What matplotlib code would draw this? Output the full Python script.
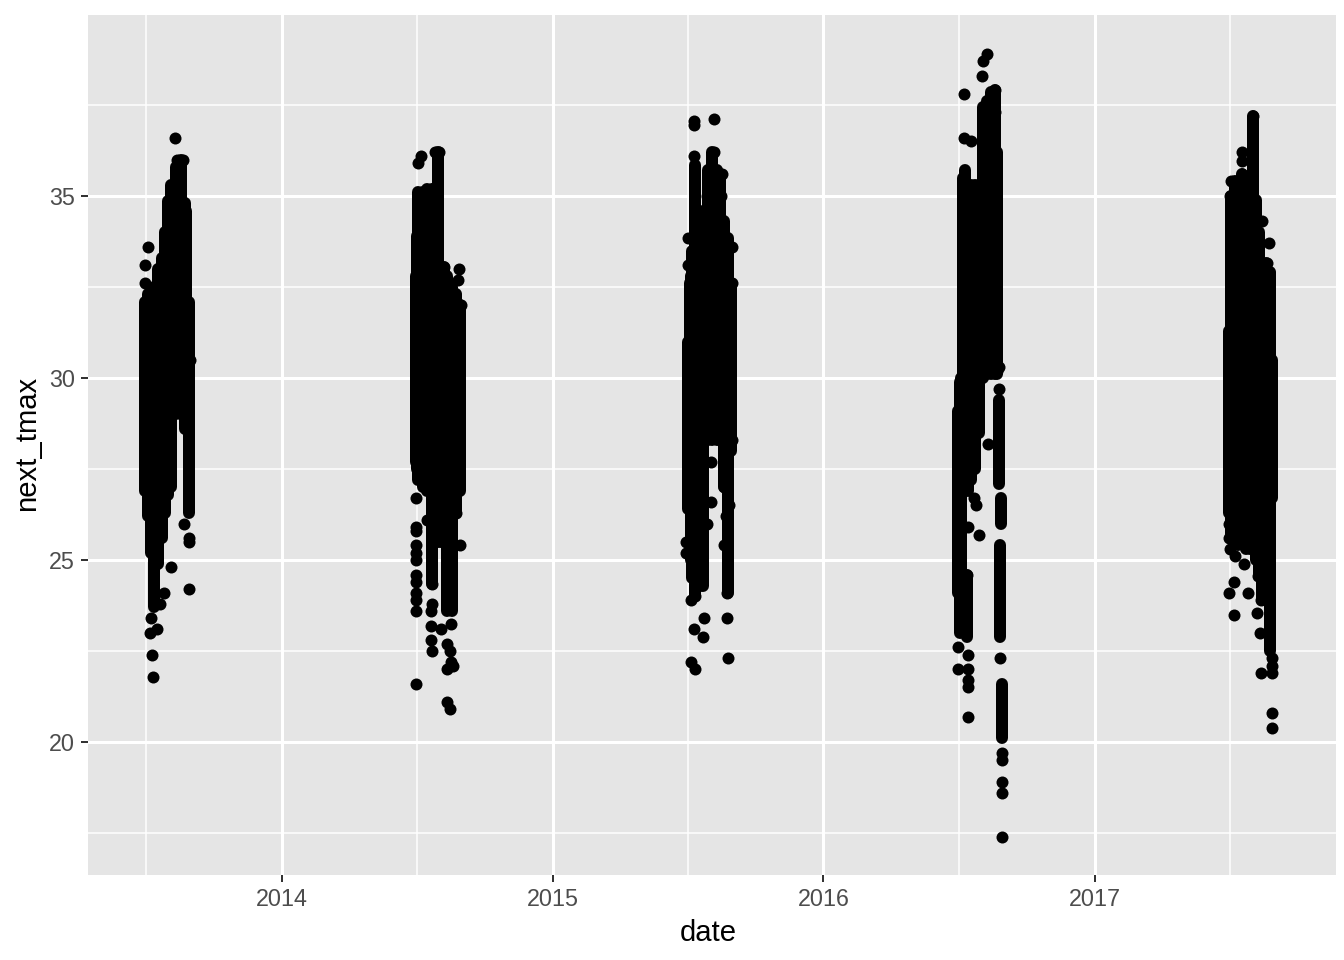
import datetime as dt
import matplotlib
matplotlib.use("Agg")
import matplotlib.pyplot as plt
import matplotlib.dates as mdates

# Dense stacks of overlapping points: days after 30 June, lowest and highest value of the stack.
col_days_2013 = [0, 4, 8, 12, 18, 23, 27, 31, 36, 42, 49, 54, 56, 59]
col_low_2013 = [26.9, 26.2, 25.2, 23.7, 24.9, 25.6, 26.3, 26.8, 27.0, 29.0, 29.0, 28.6, 29.0, 26.3]
col_high_2013 = [32.1, 32.3, 31.5, 32.5, 33.0, 33.3, 34.0, 34.85, 35.3, 35.8, 36.0, 34.8, 34.6, 32.1]
pt_days_2013 = [5, 0, 0, 10, 11, 7, 16, 8, 35, 26, 21, 59, 53, 60, 59, 41, 44, 52, 61]
pt_vals_2013 = [33.6, 33.1, 32.6, 22.4, 21.8, 23.0, 23.1, 23.4, 24.8, 24.1, 23.8, 24.2, 26.0, 25.6, 25.5,
                36.6, 36.0, 36.0, 30.5]

col_days_2014 = [0, 2, 4, 10, 16, 22, 25, 31, 35, 39, 43, 49, 54, 60]
col_low_2014 = [27.7, 27.5, 27.2, 27.0, 26.9, 24.35, 25.5, 25.5, 25.5, 25.5, 23.6, 23.6, 26.3, 26.9]
col_high_2014 = [32.8, 33.9, 35.1, 35.1, 35.2, 35.2, 35.2, 36.2, 33.0, 33.05, 32.8, 32.5, 32.3, 32.0]
pt_days_2014 = [26, 4, 8, 32, 1, 1, 1, 1, 1, 1, 1, 1, 1, 1, 1, 1,
                22, 21, 21, 21, 22, 22, 15, 58, 57, 39, 53, 60, 55, 48, 35, 43, 47, 48, 42, 51, 42, 47, 61]
pt_vals_2014 = [36.2, 35.9, 36.1, 36.2, 26.7, 25.9, 25.8, 25.4, 25.2, 25.0, 24.6, 24.4, 24.1, 23.9, 23.6, 21.6,
                23.8, 23.6, 23.2, 22.8, 22.5, 24.35, 26.1, 33.0, 32.7, 33.05, 32.3, 25.4, 26.3, 23.25, 23.1,
                22.7, 22.5, 22.2, 22.0, 22.1, 21.1, 20.9, 32.0]

col_days_2015 = [2, 2, 5, 6, 8, 12, 18, 23, 29, 35, 41, 46, 51, 56, 60]
col_low_2015 = [26.4, 27.5, 27.0, 25.0, 24.5, 24.0, 24.3, 24.3, 28.3, 28.3, 28.3, 28.3, 27.0, 24.1, 28.0]
col_high_2015 = [31.0, 30.3, 32.6, 32.8, 33.5, 35.85, 34.5, 34.6, 35.7, 36.2, 35.7, 35.6, 34.3, 33.85, 32.6]
pt_days_2015 = [10, 10, 37, 10, 37, 3, 3, 6, 0, 0, 6, 12, 24, 11, 23, 7, 12, 55, 55, 56, 33, 33, 28, 51, 57, 53, 51,
                61, 61, 61, 30, 48, 47, 28]
pt_vals_2015 = [36.95, 37.05, 37.1, 36.1, 36.2, 33.85, 33.1, 32.8, 25.5, 25.2, 23.9, 24.0, 23.4, 23.1, 22.9, 22.2,
                22.0, 24.1, 23.4, 22.3, 27.7, 26.6, 26.0, 27.0, 26.5, 26.2, 25.4, 28.3, 33.6, 32.6, 35.7, 35.6,
                35.0, 35.0]

col_days_2016 = [0, 3, 4, 7, 10, 12, 14, 18, 23, 29, 34, 39, 45, 50, 53, 55, 58, 57, 60]
col_low_2016 = [24.1, 23.0, 24.0, 27.0, 27.0, 22.9, 26.9, 27.2, 27.5, 28.5, 30.0, 30.1, 30.1, 30.1, 30.1, 27.1, 26.0,
                22.9, 20.1]
col_high_2016 = [29.1, 29.9, 30.0, 35.5, 35.7, 24.6, 35.3, 35.3, 35.3, 35.3, 37.45, 37.6, 37.85, 37.9, 36.2, 29.4,
                 26.7, 25.4, 21.6]
pt_days_2016 = [40, 34, 33, 9, 50, 46, 50, 9, 18, 14, 14, 14, 14, 14, 0, 0, 22, 25, 14, 28, 12, 57, 41, 56, 55, 53, 60,
                60, 60, 60, 60]
pt_vals_2016 = [38.9, 38.7, 38.3, 37.8, 37.9, 37.85, 37.3, 36.6, 36.5, 22.4, 22.0, 21.7, 21.5, 20.7, 22.6, 22.0,
                26.7, 26.5, 25.9, 25.7, 24.6, 22.3, 28.2, 29.7, 30.3, 30.2, 19.7, 19.5, 18.9, 18.6, 17.4]

col_days_2017 = [0, 3, 9, 13, 18, 24, 29, 33, 37, 41, 45, 51, 56, 59]
col_low_2017 = [26.3, 25.6, 25.6, 25.4, 25.5, 25.3, 25.3, 25.3, 25.0, 24.55, 23.9, 24.0, 22.5, 26.7]
col_high_2017 = [31.3, 35.0, 35.4, 34.9, 35.6, 35.2, 35.5, 37.2, 34.9, 34.0, 33.0, 33.15, 32.9, 30.5]
pt_days_2017 = [33, 18, 18, 18, 3, 2, 54, 52, 54, 45, 0, 0, 2, 9, 21, 8, 0, 26, 8, 40, 44, 39, 43, 58, 58, 44, 58, 58, 59]
pt_vals_2017 = [37.2, 36.2, 35.95, 35.6, 35.4, 35.0, 33.7, 33.15, 32.9, 34.3, 26.0, 25.6, 25.3, 25.1, 24.9, 24.4, 24.1,
                24.1, 23.5, 24.55, 23.9, 23.55, 23.0, 22.3, 22.1, 21.9, 21.9, 20.8, 20.4]

seasons = {
    2013: (col_days_2013, col_low_2013, col_high_2013, pt_days_2013, pt_vals_2013),
    2014: (col_days_2014, col_low_2014, col_high_2014, pt_days_2014, pt_vals_2014),
    2015: (col_days_2015, col_low_2015, col_high_2015, pt_days_2015, pt_vals_2015),
    2016: (col_days_2016, col_low_2016, col_high_2016, pt_days_2016, pt_vals_2016),
    2017: (col_days_2017, col_low_2017, col_high_2017, pt_days_2017, pt_vals_2017),
}
x_tick_years = [2014, 2015, 2016, 2017]
x_minor_dates = ["2013-07-02", "2014-07-02", "2015-07-02", "2016-07-02", "2017-07-02"]
y_major = [20, 25, 30, 35]
y_minor = [17.5, 22.5, 27.5, 32.5, 37.5]

plt.rcParams["font.family"] = ["Liberation Sans", "DejaVu Sans"]
fig = plt.figure(figsize=(1344 / 144, 960 / 144), dpi=144, facecolor="white")
ax = fig.add_axes([88 / 1344, 1 - 875 / 960, 1248 / 1344, 860 / 960], facecolor="#E5E5E5")


def to_num(year, day):
    return mdates.date2num(dt.date(year, 6, 30) + dt.timedelta(days=day))


for year, (cd, lo, hi, pd_, pv) in seasons.items():
    cx = [to_num(year, d) for d in cd]
    ax.vlines(cx, lo, hi, colors="black", linewidth=6, capstyle="round", zorder=3)
    ax.scatter([to_num(year, d) for d in pd_], pv, s=36, c="black", linewidths=0, zorder=3)

major_x = [mdates.date2num(dt.date(y, 1, 1)) for y in x_tick_years]
minor_x = [mdates.date2num(dt.date.fromisoformat(s)) for s in x_minor_dates]
ax.set_xticks(major_x)
ax.set_xticklabels([str(y) for y in x_tick_years])
ax.set_yticks(y_major)
ax.set_yticklabels([str(v) for v in y_major])
ax.set_xticks(minor_x, minor=True)
ax.set_yticks(y_minor, minor=True)
ax.set_xlim(major_x[0] - 261.5, major_x[0] + 1420.9)
ax.set_ylim(16.35, 39.97)

ax.grid(True, which="major", color="white", linewidth=1.5, zorder=1)
ax.grid(True, which="minor", color="white", linewidth=0.75, zorder=1)
ax.set_axisbelow(True)
for s in ax.spines.values():
    s.set_visible(False)
ax.tick_params(axis="both", which="major", length=3.5, width=1.0, color="#333333",
               labelcolor="#4D4D4D", labelsize=11.7, pad=3)
ax.tick_params(axis="both", which="minor", length=0)
ax.set_xlabel("date", fontsize=14.6, color="black", labelpad=4, x=0.4972)
ax.set_ylabel("next_tmax", fontsize=14.6, color="black", labelpad=4, y=0.5023)

fig.savefig("out.png", dpi=144)
